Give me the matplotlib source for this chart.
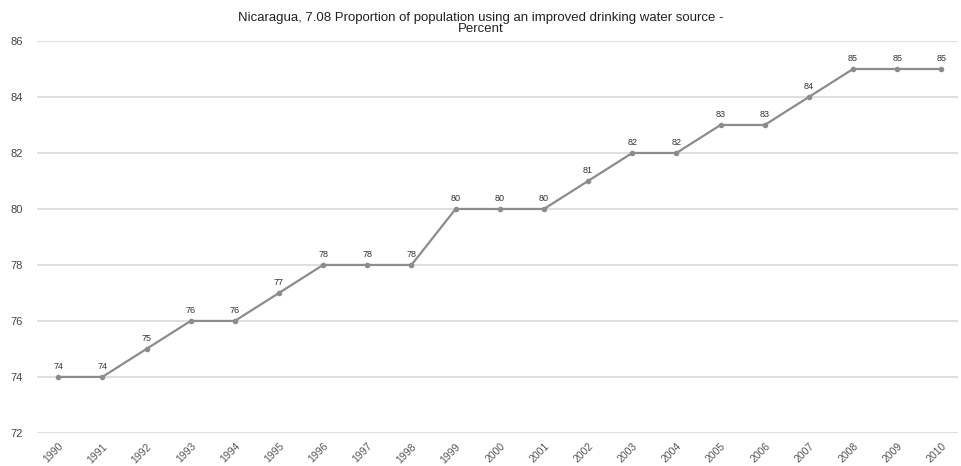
import matplotlib
matplotlib.use('Agg')
import matplotlib.pyplot as plt

# Data
years = [str(y) for y in range(1990, 2011)]
values = [74, 74, 75, 76, 76, 77, 78, 78, 78, 80, 80, 80, 81, 82, 82, 83, 83, 84, 85, 85, 85]
yticks = [72, 74, 76, 78, 80, 82, 84, 86]

plt.rcParams['font.family'] = ['Liberation Sans', 'DejaVu Sans']

fig = plt.figure(figsize=(9.61, 4.66), dpi=100)
ax = fig.add_axes([0.0385, 0.071, 0.9585, 0.841])

x = list(range(len(years)))
ax.plot(x, values, color='#8c8c8c', linewidth=1.6, marker='o', markersize=3,
        markerfacecolor='#8c8c8c', markeredgecolor='#8c8c8c', zorder=3)

# Value labels
for xi, v in zip(x, values):
    ax.text(xi, v + 0.22, str(v), ha='center', va='bottom', fontsize=6.5, color='#333333')

ax.set_ylim(72, 86)
ax.set_xlim(-0.48, 20.38)
ax.set_yticks(yticks)
ax.set_xticks(x)
ax.set_xticklabels(years, rotation=45, ha='right', rotation_mode='anchor', fontsize=7.5, color='#555555')
ax.tick_params(axis='y', labelsize=8, colors='#444444', length=0, pad=10)
ax.tick_params(axis='x', length=0, pad=6)

ax.grid(axis='y', color='#d9d9d9', linewidth=1.2)
ax.set_axisbelow(True)
for s in ax.spines.values():
    s.set_visible(False)

fig.text(0.5, 0.975, 'Nicaragua, 7.08 Proportion of population using an improved drinking water source -\nPercent',
         ha='center', va='top', fontsize=9.5, color='#222222', linespacing=0.9)

fig.savefig('out.png', dpi=100)
